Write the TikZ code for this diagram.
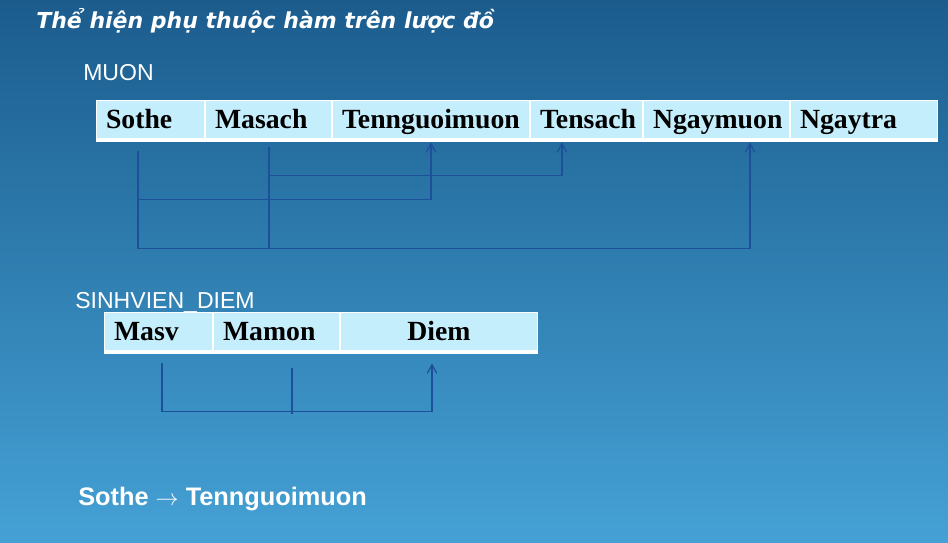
\documentclass[tikz,border=0pt]{standalone}
\usepackage{fontspec}
\setmainfont{Liberation Serif}
\setsansfont{Liberation Sans}
\newfontfamily\titlefont{DejaVu Sans}
\usepackage{xcolor}
\usetikzlibrary{arrows.meta, positioning, calc}

\definecolor{bgtop}{HTML}{1B5C8D}
\definecolor{bgmid}{HTML}{3081B3}
\definecolor{bgbot}{HTML}{45A1D5}
\definecolor{cellfill}{HTML}{C5EEFC}
\definecolor{fdline}{HTML}{1D4F9A}

\begin{document}
\begin{tikzpicture}[
    x=0.75pt, y=-0.75pt,
    cell/.style={draw=white, line width=1pt, fill=cellfill, minimum height=30.75pt,
        inner xsep=7pt, inner ysep=0pt, text height=14.5pt, text depth=3.5pt,
        align=left, font=\fontsize{20.8}{22}\selectfont\bfseries, text=black},
    relname/.style={anchor=base west, text=white, inner sep=0pt,
        font=\sffamily\fontsize{17.3}{19}\selectfont},
    fd/.style={draw=fdline, line width=0.9pt},
    fdarrow/.style={fd, -{Straight Barb[length=6.5pt, width=7pt]}}
]
\useasboundingbox (0,0) rectangle (948,542);
\shade[top color=bgtop, middle color=bgmid, bottom color=bgbot] (0,0) rectangle (948,542);

% --- Title ---
\node[anchor=base west, text=white, inner sep=0pt,
    font=\titlefont\bfseries\itshape\fontsize{16.5}{18}\selectfont] (title) at (36,29)
    {Thể hiện phụ thuộc hàm trên lược đồ};

% --- Relation MUON ---
\node[relname] (muon) at (83,80) {MUON};
\node[cell, anchor=north west, text width=66.75pt] (sothe) at (96,100) {Sothe};
\node[cell, right=0pt of sothe, text width=80.25pt] (masach) {Masach};
\node[cell, right=0pt of masach, text width=133.5pt] (tennguoimuon) {Tennguoimuon};
\node[cell, right=0pt of tennguoimuon, text width=69.75pt] (tensach) {Tensach};
\node[cell, right=0pt of tensach, text width=95.25pt] (ngaymuon) {Ngaymuon};
\node[cell, right=0pt of ngaymuon, text width=96pt] (ngaytra) {Ngaytra};
\fill[white] ($(sothe.south west)+(0,-4)$) rectangle (ngaytra.south east);

\coordinate (sotheA) at ($(sothe.south west)+(42,9)$);
\coordinate (masachA) at ($(masach.south west)+(64,5)$);
\draw[fdarrow] (sotheA) |- ($(tennguoimuon.south)+(0,57)$) -- (tennguoimuon.south);
\draw[fdarrow] (masachA) |- ($(tensach.south west)+(32,33)$) -- ($(tensach.south west)+(32,0)$);
\draw[fdarrow] (sotheA) |- ($(ngaymuon.south west)+(107,106)$) -- ($(ngaymuon.south west)+(107,0)$);
\draw[fd] (masachA) -- ++(0,101);

% --- Relation SINHVIEN_DIEM ---
\node[relname] (sinhvien) at (75,308) {SINHVIEN\_DIEM};
\node[cell, anchor=north west, text width=66.75pt] (masv) at (104,312) {Masv};
\node[cell, right=0pt of masv, text width=80.25pt] (mamon) {Mamon};
\node[cell, right=0pt of mamon, text width=133.5pt, align=center] (diem) {Diem};
\fill[white] ($(masv.south west)+(0,-4)$) rectangle (diem.south east);

\coordinate (masvA) at ($(masv.south west)+(58,9)$);
\coordinate (mamonA) at ($(mamon.south west)+(79,14)$);
\draw[fdarrow] (masvA) |- ($(diem.south west)+(92,57)$) -- ($(diem.south west)+(92,9)$);
\draw[fd] (mamonA) -- ++(0,46);

% --- Example dependency ---
\node[anchor=base west, text=white, inner sep=0pt,
    font=\sffamily\bfseries\fontsize{19}{22}\selectfont] (example) at (78,505)
    {Sothe {\normalfont$\rightarrow$} Tennguoimuon};

\end{tikzpicture}
\end{document}
